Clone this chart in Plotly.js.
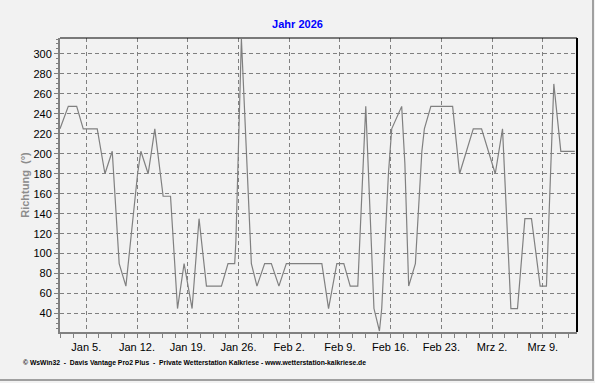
<!DOCTYPE html>
<html>
<head>
<meta charset="utf-8">
<script src="https://cdn.plot.ly/plotly-3.0.1.min.js"></script>
<style>
html,body{margin:0;padding:0;background:#f2f2f2;}
#wrap{position:relative;width:595px;height:383px;}
#chart{position:absolute;left:0;top:0;width:595px;height:383px;}
#frame{position:absolute;left:0;top:0;width:592px;height:379px;border-right:2px solid #a0a0a0;border-bottom:2px solid #a0a0a0;pointer-events:none;}
</style>
</head>
<body>
<div id="wrap"><div id="chart"></div><div id="frame"></div></div>
<script>
// Wind direction (degrees) over time
var times = [
 "2026-01-01 09:00","2026-01-02 12:30","2026-01-03 16:15","2026-01-04 14:00","2026-01-06 12:20",
 "2026-01-07 13:50","2026-01-08 14:00","2026-01-08 22:50","2026-01-09 13:00","2026-01-10 11:15",
 "2026-01-12 02:00","2026-01-12 12:50","2026-01-13 13:00","2026-01-14 11:00","2026-01-15 14:30",
 "2026-01-16 15:00","2026-01-17 14:10","2026-01-18 12:00","2026-01-19 14:25","2026-01-20 13:30",
 "2026-01-21 14:00","2026-01-23 15:35","2026-01-24 13:25","2026-01-25 11:35","2026-01-25 15:30",
 "2026-01-26 09:45","2026-01-27 18:45","2026-01-28 13:15","2026-01-29 14:45","2026-01-30 12:55",
 "2026-01-31 14:00","2026-02-01 14:30","2026-02-06 12:10","2026-02-07 10:20","2026-02-08 13:45",
 "2026-02-09 12:55","2026-02-10 10:05","2026-02-11 11:10","2026-02-12 13:35","2026-02-13 16:45",
 "2026-02-14 10:55","2026-02-14 18:30","2026-02-15 16:40","2026-02-16 03:35","2026-02-17 12:35",
 "2026-02-17 23:10","2026-02-18 11:45","2026-02-19 09:55","2026-02-20 07:25","2026-02-20 15:40",
 "2026-02-21 13:10","2026-02-24 13:15","2026-02-25 12:20","2026-02-27 09:40","2026-02-28 13:05",
 "2026-03-02 10:25","2026-03-03 10:30","2026-03-04 14:15","2026-03-05 12:05","2026-03-06 12:35",
 "2026-03-07 10:25","2026-03-08 15:10","2026-03-09 12:00","2026-03-10 12:25","2026-03-11 11:35",
 "2026-03-13 09:50"
];
var directions = [
 225,247.5,247.5,225,225,
 180,202.5,157.5,90,67.5,
 180,202.5,180,225,157.5,
 157.5,45,90,45,135,
 67.5,67.5,90,90,112.5,
 315,90,67.5,90,90,
 67.5,90,90,45,90,
 90,67.5,67.5,247.5,45,
 22.5,45,180,225,247.5,
 190,67.5,90,202.5,225,
 247.5,247.5,180,225,225,
 180,225,45,45,135,
 135,67.5,67.5,270,202.5,
 202.5
];
var tickDates = ["2026-01-05","2026-01-12","2026-01-19","2026-01-26","2026-02-02","2026-02-09","2026-02-16","2026-02-23","2026-03-02","2026-03-09"];
var tickLabels = ["Jan 5.","Jan 12.","Jan 19.","Jan 26.","Feb 2.","Feb 9.","Feb 16.","Feb 23.","Mrz 2.","Mrz 9."];

var FONT = "Liberation Sans, Arial, sans-serif";

var trace = {
  x: times, y: directions, type: 'scatter', mode: 'lines',
  line: {color: '#808080', width: 1.2},
  hoverinfo: 'skip'
};

var layout = {
  width: 595, height: 383,
  paper_bgcolor: '#f2f2f2', plot_bgcolor: '#f2f2f2',
  margin: {l: 60, r: 17.5, t: 38, b: 50.5, pad: 0},
  showlegend: false,
  title: {
    text: '<b>Jahr 2026</b>',
    font: {family: FONT, size: 11, color: '#0000ff'},
    x: 0.5, xref: 'container', xanchor: 'center',
    y: 1 - 24/383, yref: 'container', yanchor: 'middle'
  },
  xaxis: {
    type: 'date',
    range: ["2026-01-01 09:00", "2026-03-13 17:10"],
    tickmode: 'array', tickvals: tickDates, ticktext: tickLabels,
    tickfont: {family: FONT, size: 11, color: '#000000'},
    ticks: 'outside', ticklen: 4, tickcolor: '#808080', tickwidth: 1,
    showgrid: true, gridcolor: '#808080', gridwidth: 1, griddash: '4px,3px',
    showline: true, linecolor: '#808080', linewidth: 2,
    zeroline: false, fixedrange: true,
    minor: {tick0: "2026-01-05", dtick: 151200000, ticks: 'outside', ticklen: 4, tickcolor: '#808080', tickwidth: 1, showgrid: false}
  },
  yaxis: {
    range: [21.5, 316],
    tick0: 0, dtick: 20,
    tickfont: {family: FONT, size: 11, color: '#000000'},
    ticks: 'outside', ticklen: 4, tickcolor: '#808080', tickwidth: 1,
    showgrid: true, gridcolor: '#808080', gridwidth: 1, griddash: '4px,3px',
    showline: true, linecolor: '#808080', linewidth: 2,
    zeroline: false, fixedrange: true,
    title: {text: '<b>Richtung  (°)</b>', font: {family: FONT, size: 11, color: '#8c8c8c'}, standoff: 2},
    minor: {tick0: 0, dtick: 5, ticks: 'outside', ticklen: 2, tickcolor: '#808080', tickwidth: 1, showgrid: false}
  },
  shapes: [
    {type: 'line', xref: 'paper', yref: 'paper', x0: 0, x1: 1, y0: 1, y1: 1, line: {color: '#000000', width: 1.2}},
    {type: 'line', xref: 'paper', yref: 'paper', x0: 1, x1: 1, y0: 0, y1: 1, line: {color: '#000000', width: 2}}
  ],
  annotations: [{
    text: '<b>© WsWin32  -  Davis Vantage Pro2 Plus  -  Private Wetterstation Kalkriese - www.wetterstation-kalkriese.de</b>',
    xref: 'paper', yref: 'paper', x: (21 - 60) / 517.5, y: (332.5 - 364) / 294.5,
    xanchor: 'left', yanchor: 'middle', showarrow: false,
    font: {family: FONT, size: 6.8, color: '#000000'}
  }]
};

Plotly.newPlot('chart', [trace], layout, {displayModeBar: false, staticPlot: true});
</script>
</body>
</html>
